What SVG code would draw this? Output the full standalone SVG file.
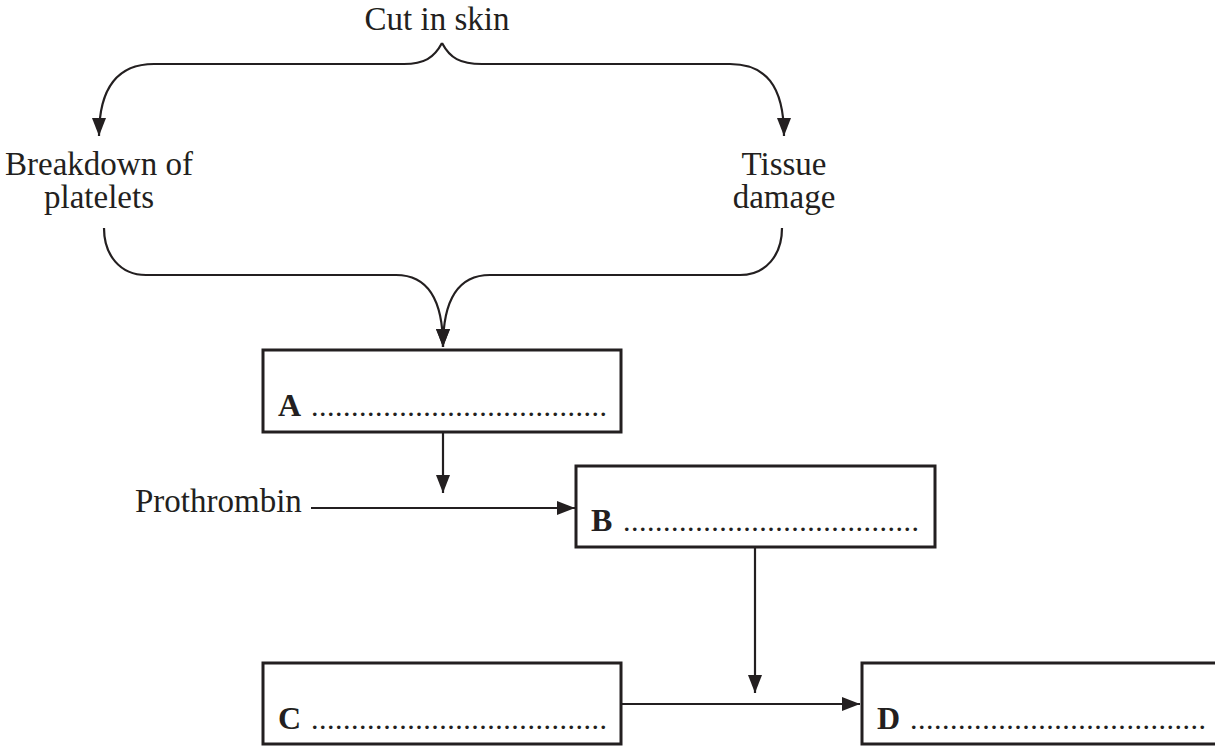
<svg xmlns="http://www.w3.org/2000/svg" width="1215" height="746" viewBox="0 0 1215 746">
<style>
.t{font-family:"Liberation Serif","Times New Roman",serif;font-size:33px;fill:#231f20}
.l{font-family:"Liberation Serif","Times New Roman",serif;font-size:32px;font-weight:bold;fill:#231f20}
.d{font-family:"Liberation Serif","Times New Roman",serif;font-size:30px;fill:#231f20}
.box{fill:#fff;stroke:#231f20;stroke-width:3}
.c{fill:none;stroke:#231f20;stroke-width:2.2}
</style>
<defs>
<marker id="ah" markerUnits="userSpaceOnUse" markerWidth="18" markerHeight="16" refX="18" refY="8" orient="auto">
<path d="M0,1 L18,8 L0,15 z" fill="#231f20"/>
</marker>
</defs>
<rect width="1215" height="746" fill="#fff"/>
<g id="connectors">
<path class="c" d="M442,43 C434,58 424,64 404,64 H154 C120,64 99,85 99,136" marker-end="url(#ah)"/>
<path class="c" d="M442,43 C450,58 460,64 482,64 H730 C765,64 784,85 784,136" marker-end="url(#ah)"/>
<path class="c" d="M104,228 C104,255 120,275 146,275 H396 C425,275 443,295 443,347" marker-end="url(#ah)"/>
<path class="c" d="M782,228 C782,255 766,275 740,275 H490 C461,275 443,295 443,347" marker-end="url(#ah)"/>
<path class="c" d="M443,433 V493" marker-end="url(#ah)"/>
<path class="c" d="M311,508 H575" marker-end="url(#ah)"/>
<path class="c" d="M755,548 V693" marker-end="url(#ah)"/>
<path class="c" d="M622,704 H860" marker-end="url(#ah)"/>
</g>
<g id="cut"><text class="t" x="437" y="30" text-anchor="middle">Cut in skin</text></g>
<g id="platelets"><text class="t" x="99" y="175" text-anchor="middle">Breakdown of</text><text class="t" x="99" y="208" text-anchor="middle">platelets</text></g>
<g id="tissue"><text class="t" x="784" y="175" text-anchor="middle">Tissue</text><text class="t" x="784" y="208" text-anchor="middle">damage</text></g>
<g id="prothrombin"><text class="t" x="135" y="512">Prothrombin</text></g>
<g id="boxA"><rect class="box" x="263" y="350" width="358" height="82"/><text class="l" x="278" y="416">A</text><text class="d" x="311" y="416" textLength="296" lengthAdjust="spacing">.....................................</text></g>
<g id="boxB"><rect class="box" x="576" y="466" width="359" height="81"/><text class="l" x="591" y="531">B</text><text class="d" x="623" y="531" textLength="296" lengthAdjust="spacing">.....................................</text></g>
<g id="boxC"><rect class="box" x="263" y="663" width="358" height="81"/><text class="l" x="278" y="729">C</text><text class="d" x="311" y="729" textLength="296" lengthAdjust="spacing">.....................................</text></g>
<g id="boxD"><rect class="box" x="862" y="663" width="360" height="81"/><text class="l" x="877" y="729">D</text><text class="d" x="910" y="729" textLength="296" lengthAdjust="spacing">.....................................</text></g>
</svg>
